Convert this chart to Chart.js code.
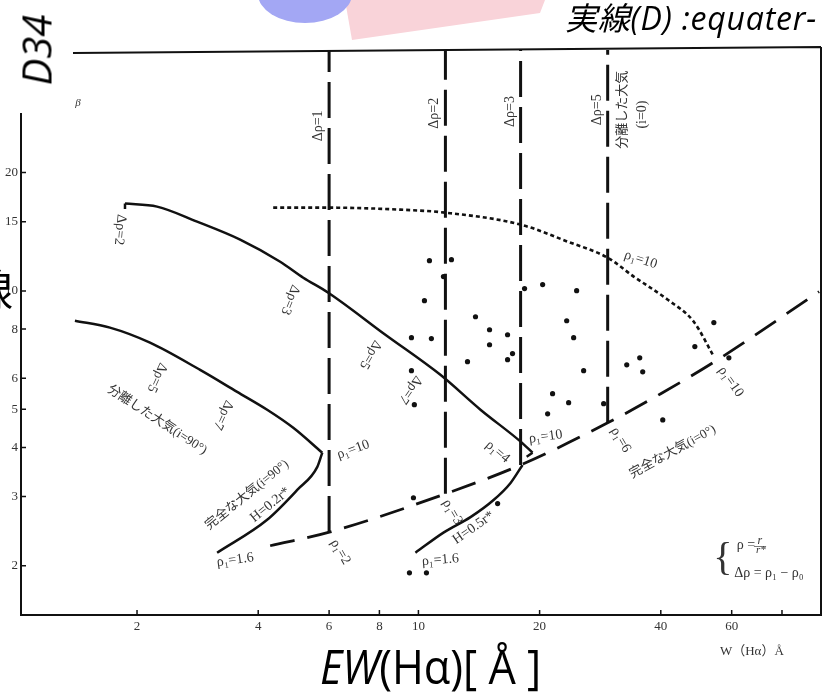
<!DOCTYPE html>
<html>
<head>
<meta charset="utf-8">
<style>
  html, body { margin: 0; padding: 0; background: #fff; }
  #wrap { position: relative; width: 827px; height: 692px; overflow: hidden; }
  canvas { position: absolute; left: 0; top: 0; }
  .ov { position: absolute; white-space: nowrap; color: #000; line-height: 1; }
</style>
<script src="https://cdn.jsdelivr.net/npm/chart.js@4.4.1/dist/chart.umd.min.js"></script>
</head>
<body>
<div id="wrap">
  <canvas id="chart" width="827" height="692"></canvas>
  <svg class="ov" width="827" height="60" style="left:0;top:0">
    <polygon points="345,0 545,0 540,13 352,40" fill="#f9d3d9" />
    <ellipse cx="305" cy="-6" rx="47" ry="29" fill="#a3a7f4" />
  </svg>
  <div class="ov" style="left:36px;top:50px;transform:translate(-50%,-50%) rotate(-90deg);font:italic 40px 'Open Sans', sans-serif;">D34</div>
  <div class="ov" style="left:565px;top:-7px;font:italic 32px 'Open Sans', 'Noto Sans CJK JP', sans-serif;letter-spacing:0.8px;">実線(D) :equater-</div>
  <div class="ov" style="left:-31px;top:256px;font:44px 'Noto Sans CJK JP', sans-serif;">線</div>
  <div class="ov" style="left:320px;top:634px;font:47px 'Open Sans', sans-serif;transform:scaleX(0.92);transform-origin:left top;"><i>EW</i>(Hα)[ Å ]</div>
</div>
<script>
// axis ticks
const xTicks = [2, 4, 6, 8, 10, 20, 40, 60, 80];
const xTickLabels = ["2", "4", "6", "8", "10", "20", "40", "60", ""];
const yTicks = [2, 3, 4, 5, 6, 8, 10, 15, 20];
const yTickLabels = ["2", "3", "4", "5", "6", "8", "10", "15", "20"];

// observed stars
const starW = [9.61, 9.61, 9.77, 10.35, 10.65, 10.77, 11.54, 12.08, 13.24, 13.86, 15.02, 15.02, 16.65, 16.65, 17.13, 18.35, 20.35, 20.94, 21.54, 23.35, 23.61, 24.30, 24.72, 25.73, 28.85, 32.92, 35.46, 36.07, 40.45, 48.60, 54.18, 59.04, 9.72, 15.73, 9.50, 10.47];
const starD = [7.61, 6.27, 5.14, 9.45, 11.94, 7.57, 10.88, 12.01, 6.61, 8.60, 7.97, 7.30, 7.74, 6.69, 6.93, 10.14, 10.38, 4.87, 5.48, 8.40, 5.20, 7.61, 10.02, 6.27, 5.17, 6.49, 6.76, 6.23, 4.70, 7.22, 8.31, 6.76, 2.98, 2.88, 1.92, 1.92];

// model curves [W, D], W increasing
const detachedUpper = [[1.867, 16.68], [2.243, 16.39], [2.820, 15.01], [3.607, 13.51], [4.536, 11.87], [5.176, 10.81], [5.972, 9.90], [8.277, 7.74], [11.34, 6.12], [14.26, 4.99], [17.94, 4.14], [19.21, 3.88]];
const detachedUpperStart = [[1.867, 16.68], [1.867, 16.15]];
const detachedUpperEnd = [[19.21, 3.88], [18.57, 3.79]];
const detachedLower = [[1.402, 8.40], [1.713, 8.07], [2.154, 7.39], [2.869, 6.30], [3.546, 5.54], [4.210, 4.99], [4.888, 4.49], [5.771, 3.88]];
const fullH02 = [[3.162, 2.16], [4.210, 2.62], [5.000, 3.12], [5.609, 3.57], [5.771, 3.88]];
const fullH05 = [[9.83, 2.16], [11.54, 2.43], [13.47, 2.66], [15.37, 2.94], [16.94, 3.25], [18.14, 3.61]];
const fullI0 = [[4.283, 2.25], [6.041, 2.44], [11.67, 3.05], [17.94, 3.61], [29.52, 4.62], [39.99, 5.48], [55.43, 6.69], [98.9, 9.96]];
const rho10 = [[4.358, 16.29], [6.005, 16.29], [9.02, 16.10], [11.67, 15.82], [17.94, 14.75], [23.48, 13.35], [29.52, 12.15], [34.26, 10.88], [41.64, 9.50], [48.31, 8.35], [54.18, 6.81]];

// delta rho = 1, 2, 3, 5 verticals
const deltaRhoW = [6.0, 11.67, 17.94, 29.52];
const deltaRhoBottom = [2.44, 3.05, 3.61, 4.62];

const xMin = 1.03, xMax = 100, yMin = 1.5, yMax = 41;

const serif = "'Liberation Serif', 'DejaVu Serif', 'Noto Sans CJK JP', serif";

// text written inside the plot, placed in data space
const notes = [
  { text: "β", x: 1.426, y: 29.96, rot: 0, size: 11, italic: true },
  { text: "Δρ=1", x: 5.64, y: 26.3, rot: -90 },
  { text: "Δρ=2", x: 10.96, y: 28.3, rot: -90 },
  { text: "Δρ=3", x: 16.94, y: 28.6, rot: -90 },
  { text: "Δρ=5", x: 27.88, y: 28.9, rot: -90 },
  { text: "分離した大気", x: 32.18, y: 28.9, rot: -90, size: 13 },
  { text: "(i=0)", x: 36.07, y: 28.1, rot: -90 },
  { text: "Δρ=2", x: 1.814, y: 14.32, rot: 95 },
  { text: "Δρ=3", x: 4.804, y: 9.50, rot: 112 },
  { text: "Δρ=5", x: 7.60, y: 6.89, rot: 120 },
  { text: "Δρ=7", x: 9.55, y: 5.61, rot: 125 },
  { text: "Δρ=5", x: 2.243, y: 6.02, rot: 115 },
  { text: "Δρ=7", x: 3.273, y: 4.84, rot: 115 },
  { text: "分離した大気(i=90°)", x: 2.243, y: 4.70, rot: 33, size: 13 },
  { text: "完全な大気(i=90°)", x: 3.755, y: 3.03, rot: -39, size: 13 },
  { text: "H=0.2r*", x: 4.283, y: 2.86, rot: -39 },
  { text: "ρ₁=1.6", x: 3.506, y: 2.07, rot: -8 },
  { text: "ρ₁=10", x: 6.89, y: 3.95, rot: -20 },
  { text: "ρ₁=2", x: 6.40, y: 2.17, rot: 60 },
  { text: "ρ₁=3", x: 12.15, y: 2.74, rot: 60 },
  { text: "H=0.5r*", x: 13.70, y: 2.50, rot: -35 },
  { text: "ρ₁=1.6", x: 11.34, y: 2.07, rot: -5 },
  { text: "ρ₁=4", x: 15.73, y: 3.90, rot: 40 },
  { text: "ρ₁=10", x: 20.70, y: 4.26, rot: -8 },
  { text: "ρ₁=6", x: 31.81, y: 4.18, rot: 60 },
  { text: "完全な大気(i=0°)", x: 42.83, y: 3.90, rot: -29, size: 13 },
  { text: "ρ₁=10", x: 35.66, y: 12.01, rot: 18 },
  { text: "ρ₁=10", x: 59.7, y: 5.88, rot: 55 },
  { text: "{", x: 57.05, y: 2.07, rot: 0, size: 40 },
  { text: "ρ =", x: 65.07, y: 2.25, rot: 0 },
  { text: "r", x: 70.5, y: 2.31, rot: 0, size: 12, italic: true },
  { text: "—", x: 70.5, y: 2.25, rot: 0, size: 12 },
  { text: "r*", x: 70.9, y: 2.19, rot: 0, size: 11, italic: true },
  { text: "Δρ = ρ₁ − ρ₀", x: 74.23, y: 1.92, rot: 0 },
  { text: "W（Hα）Å", x: 67.35, y: 1.208, rot: 0, size: 13 }
];

function toPoints(pairs) {
  return pairs.map(([x, y]) => ({ x, y }));
}

function curve(pairs, extra) {
  return Object.assign({
    data: toPoints(pairs),
    showLine: true,
    pointRadius: 0,
    borderColor: "#111",
    borderWidth: 2.5,
    cubicInterpolationMode: "monotone",
    tension: 0.4,
    fill: false
  }, extra);
}

const inkPlugin = {
  id: "ink",
  beforeDatasetsDraw(chart) {
    const { ctx, chartArea: a, scales } = chart;
    ctx.save();
    ctx.strokeStyle = "#111";
    ctx.lineWidth = 2;
    ctx.beginPath();
    ctx.moveTo(a.left, a.top + 63);
    ctx.lineTo(a.left, a.bottom);
    ctx.lineTo(a.right, a.bottom);
    ctx.lineTo(a.right, a.top - 3);
    ctx.moveTo(a.left + 52, a.top + 3);
    ctx.lineTo(a.right, a.top - 3);
    ctx.stroke();

    // ticks point inward like the printed figure
    ctx.lineWidth = 1.5;
    ctx.beginPath();
    xTicks.forEach((v) => {
      const p = scales.x.getPixelForValue(v);
      ctx.moveTo(p, a.bottom);
      ctx.lineTo(p, a.bottom - 5);
    });
    yTicks.forEach((v) => {
      const p = scales.y.getPixelForValue(v);
      ctx.moveTo(a.left, p);
      ctx.lineTo(a.left + 5, p);
    });
    ctx.stroke();
    ctx.restore();
  },
  afterDatasetsDraw(chart) {
    const { ctx, scales } = chart;
    ctx.save();
    ctx.fillStyle = "#333";
    ctx.textAlign = "center";
    ctx.textBaseline = "middle";
    notes.forEach((n) => {
      const px = scales.x.getPixelForValue(n.x);
      const py = scales.y.getPixelForValue(n.y);
      ctx.save();
      ctx.translate(px, py);
      ctx.rotate((n.rot * Math.PI) / 180);
      ctx.font = (n.italic ? "italic " : "") + (n.size || 14) + "px " + serif;
      ctx.fillText(n.text, 0, 0);
      ctx.restore();
    });
    ctx.restore();
  }
};

const datasets = [
  ...deltaRhoW.map((w, i) => curve([[w, deltaRhoBottom[i]], [w, yMax]], {
    borderWidth: 3,
    borderDash: [36, 10],
    cubicInterpolationMode: "default",
    tension: 0
  })),
  curve(fullI0, { borderWidth: 2.8, borderDash: [25, 13] }),
  curve(rho10, { borderWidth: 2.6, borderDash: [4, 3] }),
  curve(detachedUpper),
  curve(detachedUpperStart, { cubicInterpolationMode: "default", tension: 0 }),
  curve(detachedUpperEnd, { cubicInterpolationMode: "default", tension: 0 }),
  curve(detachedLower),
  curve(fullH02),
  curve(fullH05),
  {
    data: starW.map((w, i) => ({ x: w, y: starD[i] })),
    pointRadius: 2.6,
    pointBackgroundColor: "#111",
    pointBorderWidth: 0,
    showLine: false
  }
];

const tickFont = { family: "'Liberation Serif', 'DejaVu Serif', serif", size: 13 };

new Chart(document.getElementById("chart"), {
  type: "scatter",
  data: { datasets },
  options: {
    responsive: false,
    animation: false,
    devicePixelRatio: 1,
    layout: { padding: { top: 50, right: 6, left: 0, bottom: 0 } },
    plugins: {
      legend: { display: false },
      tooltip: { enabled: false }
    },
    scales: {
      x: {
        type: "logarithmic",
        min: xMin,
        max: xMax,
        grid: { display: false, drawTicks: false },
        border: { display: false },
        afterBuildTicks: (scale) => {
          scale.ticks = xTicks.map((v) => ({ value: v }));
        },
        afterFit: (scale) => {
          scale.height = 77;
        },
        ticks: {
          autoSkip: false,
          maxRotation: 0,
          minRotation: 0,
          padding: 4,
          color: "#333",
          font: tickFont,
          callback: (value, index) => xTickLabels[index]
        }
      },
      y: {
        type: "logarithmic",
        min: yMin,
        max: yMax,
        grid: { display: false, drawTicks: false },
        border: { display: false },
        afterBuildTicks: (scale) => {
          scale.ticks = yTicks.map((v) => ({ value: v }));
        },
        afterFit: (scale) => {
          scale.width = 21;
        },
        ticks: {
          autoSkip: false,
          padding: 3,
          color: "#333",
          font: tickFont,
          callback: (value, index) => yTickLabels[index]
        }
      }
    }
  },
  plugins: [inkPlugin]
});
</script>
</body>
</html>
